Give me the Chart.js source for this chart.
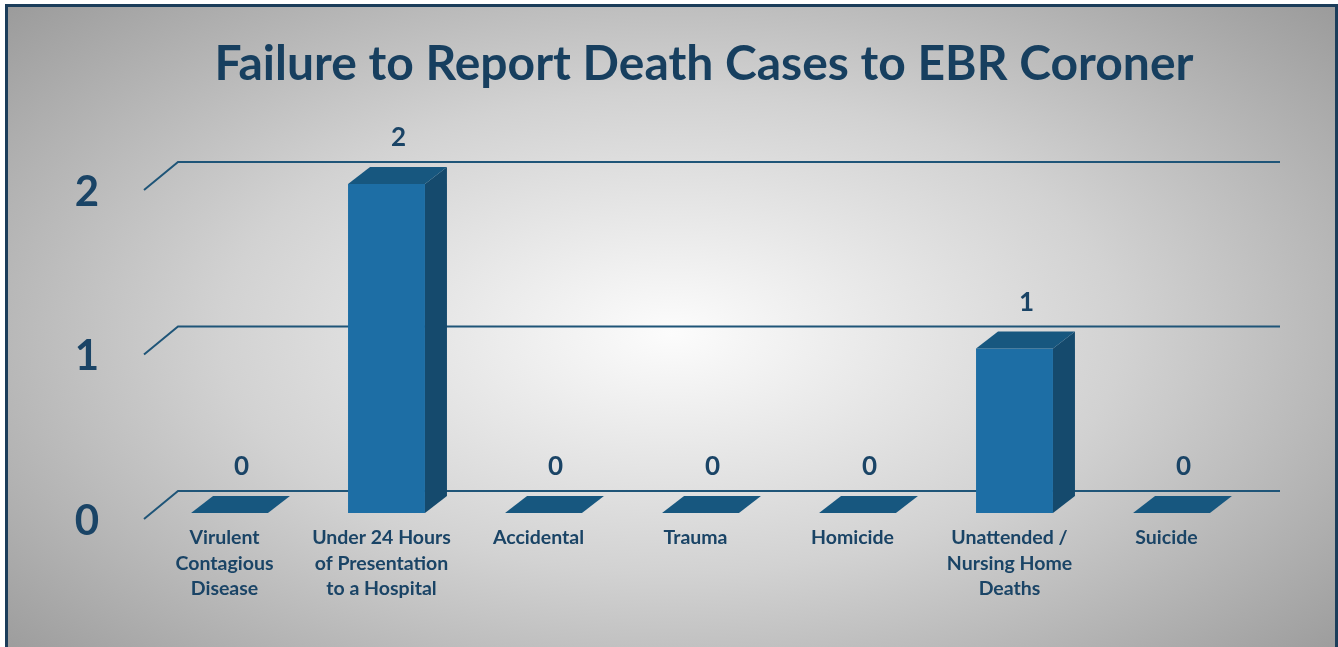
<!DOCTYPE html>
<html>
<head>
<meta charset="utf-8">
<title>Failure to Report Death Cases to EBR Coroner</title>
<script src="https://cdn.jsdelivr.net/npm/chart.js@4.4.1/dist/chart.umd.min.js"></script>
<style>
  html, body { margin: 0; padding: 0; background: #ffffff; overflow: hidden; }
  #frame {
    position: absolute;
    left: 5px; top: 4px;
    width: 1327px; height: 680px;
    border: 3px solid #1b3d5a;
    background: radial-gradient(ellipse farthest-corner at 50% 48%, #fcfcfc 0%, #d2d2d2 48%, #979797 100%);
  }
  #chart { position: absolute; left: 0; top: 0; }
</style>
</head>
<body>
<div id="frame"></div>
<canvas id="chart" width="1338" height="647"></canvas>
<script>
// categories (multi-line labels) and case counts
const categories = [
  ["Virulent", "Contagious", "Disease"],
  ["Under 24 Hours", "of Presentation", "to a Hospital"],
  ["Accidental"],
  ["Trauma"],
  ["Homicide"],
  ["Unattended /", "Nursing Home", "Deaths"],
  ["Suicide"],
];
const caseCounts = [0, 2, 0, 0, 0, 1, 0];
const yTicks = [0, 1, 2];

const NAVY = "#1a4466";
const FONT = "Lato, 'Open Sans', sans-serif";

// 3D look: extra faces for the bars, back-wall gridlines, value labels
const depthPlugin = {
  id: "depth3d",
  beforeDatasetsDraw(chart) {
    const { ctx, chartArea, scales } = chart;
    ctx.save();
    ctx.strokeStyle = "#1f5578";
    ctx.lineWidth = 2;
    yTicks.forEach((v) => {
      const y = scales.y.getPixelForValue(v);
      ctx.beginPath();
      ctx.moveTo(chartArea.left - 7, y + 6);
      ctx.lineTo(chartArea.left + 27, y - 22);
      ctx.lineTo(chartArea.right + 30, y - 22);
      ctx.stroke();
    });
    ctx.restore();
  },
  afterDatasetsDraw(chart) {
    const { ctx } = chart;
    const meta = chart.getDatasetMeta(0);
    const dx = 22, dy = 17;
    ctx.save();
    meta.data.forEach((bar, i) => {
      const left = bar.x - bar.width / 2;
      const right = bar.x + bar.width / 2;
      const top = bar.y;
      const base = bar.base;
      // side face
      if (base - top > 0.5) {
        ctx.fillStyle = "#154a6d";
        ctx.beginPath();
        ctx.moveTo(right, top);
        ctx.lineTo(right + dx, top - dy);
        ctx.lineTo(right + dx, base - dy);
        ctx.lineTo(right, base);
        ctx.closePath();
        ctx.fill();
      }
      // top face
      ctx.fillStyle = "#17577f";
      ctx.beginPath();
      ctx.moveTo(left, top);
      ctx.lineTo(left + dx, top - dy);
      ctx.lineTo(right + dx, top - dy);
      ctx.lineTo(right, top);
      ctx.closePath();
      ctx.fill();
      // value label
      ctx.fillStyle = NAVY;
      ctx.font = "bold 26px " + FONT;
      ctx.textAlign = "center";
      ctx.textBaseline = "middle";
      ctx.fillText(String(caseCounts[i]), bar.x + 12, top - 46);
    });
    ctx.restore();
  },
};

new Chart(document.getElementById("chart"), {
  type: "bar",
  data: {
    labels: categories,
    datasets: [
      {
        data: caseCounts,
        backgroundColor: "#1d6ea5",
        borderWidth: 0,
        barPercentage: 0.49,
        categoryPercentage: 1,
      },
    ],
  },
  options: {
    responsive: false,
    animation: false,
    layout: { padding: { left: 70, right: 0, top: 0, bottom: 0 } },
    plugins: {
      legend: { display: false },
      tooltip: { enabled: false },
      title: {
        display: true,
        text: "Failure to Report Death Cases to EBR Coroner",
        color: "#173f5f",
        font: { family: FONT, size: 48, weight: "bold", lineHeight: 1.2 },
        padding: { top: 36, bottom: 90.4 },
      },
    },
    scales: {
      x: {
        grid: { display: false, drawTicks: false },
        border: { display: false },
        ticks: {
          color: NAVY,
          font: { family: FONT, size: 19.5, weight: "bold", lineHeight: 1.31 },
          padding: 12,
          labelOffset: -5,
          maxRotation: 0,
          autoSkip: false,
        },
        afterFit: (scale) => { scale.height = 134; },
      },
      y: {
        min: 0,
        max: 2,
        grid: { display: false, drawTicks: false },
        border: { display: false },
        ticks: {
          stepSize: 1,
          color: NAVY,
          font: { family: FONT, size: 42, weight: "bold" },
          padding: 52,
          labelOffset: 8,
        },
        afterFit: (scale) => { scale.width = 81; },
      },
      // empty right-hand axis that only reserves the space behind the back wall
      yRight: {
        position: "right",
        min: 0,
        max: 2,
        grid: { display: false, drawTicks: false },
        border: { display: false },
        ticks: { display: false },
        afterFit: (scale) => { scale.width = 88; },
      },
    },
  },
  plugins: [depthPlugin],
});
</script>
</body>
</html>
